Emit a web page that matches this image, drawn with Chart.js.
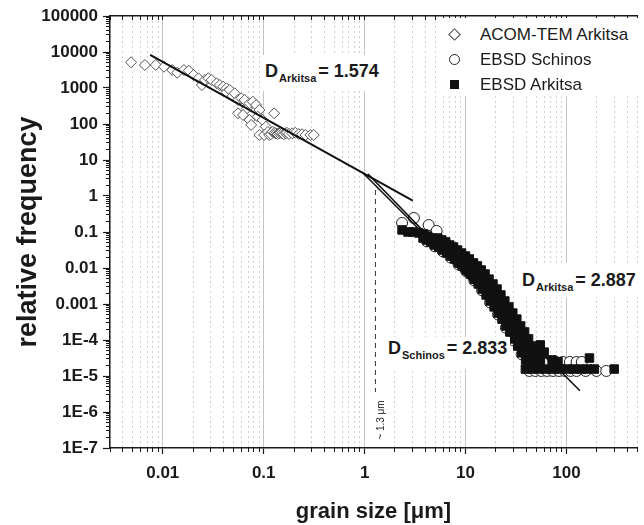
<!DOCTYPE html>
<html>
<head>
    <title>Grain size distribution</title>
    <script src="https://cdn.jsdelivr.net/npm/chart.js"></script>
    <style>
        html, body { margin: 0; padding: 0; overflow: hidden; background: #fff; }
        #wrap { position: relative; width: 644px; height: 525px; overflow: hidden; }
        #wrap canvas { position: absolute; left: 0; top: 0; }
        .box { position: absolute; background: #fff; font-family: 'Liberation Sans', Arial, sans-serif; color: #1a1a1a; white-space: nowrap; }
        .dlabel { font-weight: bold; font-size: 18px; line-height: 20px; }
        .dlabel .sub { font-size: 11px; position: relative; top: 5px; margin-left: 1px; margin-right: 2px; }
        #legend { left: 437px; top: 18px; width: 207px; height: 78px; font-size: 17px; }
        #legend .row { position: absolute; left: 0; height: 25px; line-height: 25px; }
        #legend .txt { position: absolute; left: 43px; top: 0; }
        .sym { position: absolute; box-sizing: border-box; }
        #note { position: absolute; left: 361px; top: 414px; width: 40px; text-align: center; font-family: 'Liberation Sans', Arial, sans-serif; font-size: 10px; line-height: 12px; color: #222; transform: rotate(-90deg); white-space: nowrap; }
    </style>
</head>
<body>
<div id="wrap">
    <canvas id="grainChart" width="644" height="525"></canvas>
    <div class="box dlabel" style="left:261px; top:54.5px; padding:6px 4px 8px 4px;">D<span class="sub">Arkitsa</span>= 1.574</div>
    <div class="box dlabel" style="left:518px; top:262.8px; padding:7px 6px 5px 4px;">D<span class="sub">Arkitsa</span>= 2.887</div>
    <div class="box dlabel" style="left:384px; top:336.8px; padding:1px 3px 9px 4px;">D<span class="sub">Schinos</span>= 2.833</div>
    <div id="note">~ 1.3 μm</div>
    <div class="box" id="legend">
        <div class="row" style="top:3.6px;">
            <div class="sym" style="left:13px; top:8px; width:9px; height:9px; border:1.2px solid #444; transform:rotate(45deg);"></div>
            <span class="txt">ACOM-TEM Arkitsa</span>
        </div>
        <div class="row" style="top:28.6px;">
            <div class="sym" style="left:12px; top:7px; width:11px; height:11px; border:1.2px solid #222; border-radius:50%;"></div>
            <span class="txt">EBSD Schinos</span>
        </div>
        <div class="row" style="top:53.6px;">
            <div class="sym" style="left:13px; top:8px; width:9px; height:9px; background:#111;"></div>
            <span class="txt">EBSD Arkitsa</span>
        </div>
    </div>
</div>

<script>
    // ACOM-TEM Arkitsa (open diamonds)
    const acomX = [0.00485, 0.00665, 0.00853, 0.0103, 0.0124, 0.0139, 0.0162, 0.0181, 0.0202, 0.0226,
                   0.0244, 0.0262, 0.0283, 0.0305, 0.0342, 0.0368, 0.0397, 0.0428, 0.043, 0.0461,
                   0.049, 0.0516, 0.0557, 0.06, 0.0647, 0.068, 0.0724, 0.078, 0.0841, 0.0906,
                   0.0557, 0.0624, 0.0724, 0.0751, 0.0873, 0.0977, 0.105, 0.0906, 0.101, 0.11,
                   0.1135, 0.118, 0.127, 0.1224, 0.128, 0.132, 0.137, 0.142, 0.147, 0.153,
                   0.158, 0.165, 0.17, 0.178, 0.192, 0.206, 0.223, 0.24, 0.259, 0.29, 0.313];
    const acomY = [5180, 4350, 4350, 3900, 3160, 2660, 3160, 3030, 2300, 1860,
                   1210, 1670, 1860, 1670, 1350, 1210, 1090, 980, 760, 880,
                   600, 710, 464, 517, 464, 270, 375, 417, 337, 245,
                   198, 178, 129, 94, 160, 129, 84, 49.5, 49.5, 60,
                   49.5, 52, 198, 61, 57, 55, 53, 55, 57, 55,
                   52, 55, 57, 53, 55, 57, 52.7, 52, 49.5, 49.5, 49.5];

    // EBSD Schinos (open circles), mostly hidden under the Arkitsa squares
    const schinosX = [2.35, 3.08, 4.32, 5.17,
                      4.15, 4.96, 5.95, 7.12, 8.53, 10.2, 12.2, 14.6, 17.5, 21.0, 25.1, 30.0, 36.0, 43.0,
                      67.3, 78.8, 92.2, 108, 126, 142,
                      42.9, 49.1, 56.2, 64.3, 73.6, 84.3, 96.5, 110, 126, 155, 198, 248];
    const schinosY = [0.178, 0.245, 0.156, 0.107,
                      0.055, 0.040, 0.029, 0.0195, 0.0125, 0.008, 0.0045, 0.0024, 0.0011, 5.1e-4, 2.2e-4, 9.7e-5, 4.0e-5, 1.75e-5,
                      2.45e-5, 2.45e-5, 2.45e-5, 2.45e-5, 2.45e-5, 2.45e-5,
                      1.38e-5, 1.38e-5, 1.38e-5, 1.38e-5, 1.38e-5, 1.38e-5, 1.38e-5, 1.38e-5, 1.38e-5, 1.38e-5, 1.38e-5, 1.38e-5];

    // EBSD Arkitsa (filled squares): middle of the band, its lower-left and upper-right edges, the tail
    const arkitsaX = [2.35, 2.69, 3.01, 3.45, 3.86, 4.22, 4.62, 5.06, 5.53, 6.05,
                      6.62, 7.25, 7.93, 8.68, 9.5, 10.4, 11.4, 12.4, 13.6, 14.9,
                      16.3, 17.8, 19.5, 21.3, 23.4, 25.6, 28.0, 30.6, 33.5, 36.6,
                      40.1, 43.9, 48.0, 52.5,
                      3.79, 4.15, 4.53, 4.96, 5.43, 5.95, 6.5, 7.12, 7.79, 8.53,
                      9.35, 10.2, 11.2, 12.2, 13.4, 14.6, 16.0, 17.5, 19.2, 21.0,
                      23.0, 25.1, 27.5, 30.0, 32.9, 36.0, 39.4, 43.0,
                      5.31, 5.82, 6.36, 6.96, 7.61, 8.34, 9.12, 9.98, 10.9, 12.0,
                      13.1, 14.3, 15.6, 17.1, 18.7, 20.5, 22.4, 24.5, 26.9, 29.4,
                      32.2, 35.2, 38.5, 42.1, 46.1, 50.5, 55.2,
                      55, 60.1, 72, 82.4,
                      39.2, 45.9, 53.8, 63, 73.7, 86.3, 101, 118, 138, 162, 189, 297, 169];
    const arkitsaY = [0.114, 0.100, 0.100, 0.094, 0.088, 0.077, 0.068, 0.060, 0.053, 0.0435,
                      0.0383, 0.0316, 0.0261, 0.0215, 0.0178, 0.0138, 0.0114, 0.0088, 0.0068, 0.0049,
                      0.0036, 0.0026, 0.00178, 0.00121, 8.3e-4, 5.6e-4, 3.8e-4, 2.45e-4, 1.67e-4, 1.07e-4,
                      6.8e-5, 4.4e-5, 2.8e-5, 1.9e-5,
                      0.068, 0.060, 0.053, 0.0435, 0.0383, 0.0316, 0.0261, 0.0215, 0.0178, 0.0138,
                      0.0114, 0.0088, 0.0068, 0.0049, 0.0036, 0.0026, 0.00178, 0.00121, 8.3e-4, 5.6e-4,
                      3.8e-4, 2.45e-4, 1.67e-4, 1.07e-4, 6.8e-5, 4.4e-5, 2.8e-5, 1.9e-5,
                      0.068, 0.060, 0.053, 0.0435, 0.0383, 0.0316, 0.0261, 0.0215, 0.0178, 0.0138,
                      0.0114, 0.0088, 0.0068, 0.0049, 0.0036, 0.0026, 0.00178, 0.00121, 8.3e-4, 5.6e-4,
                      3.8e-4, 2.45e-4, 1.67e-4, 1.07e-4, 6.8e-5, 4.4e-5, 2.8e-5,
                      7.3e-5, 4.6e-5, 2.8e-5, 2.5e-5,
                      1.56e-5, 1.56e-5, 1.56e-5, 1.56e-5, 1.56e-5, 1.56e-5, 1.56e-5, 1.56e-5, 1.56e-5, 1.56e-5, 1.56e-5, 1.56e-5, 3.16e-5];

    // fit lines and the ~1.3 um marker
    const fitAcomX = [0.0075, 3.0];
    const fitAcomY = [8260, 0.74];
    const fitArkitsaX = [0.97, 136];
    const fitArkitsaY = [4.3, 3.9e-6];
    const fitSchinosX = [1.08, 82];
    const fitSchinosY = [4.1, 1.5e-5];
    const markerX = [1.28, 1.28];
    const markerY = [1.47, 3.6e-6];

    // axes
    const xMin = 0.003, xMax = 500;
    const yMin = 1e-7, yMax = 1e5;
    const xMajor = [0.01, 0.1, 1, 10, 100];
    const xTickLabels = ["0.01", "0.1", "1", "10", "100"];
    const yMajor = [1e5, 1e4, 1e3, 100, 10, 1, 0.1, 0.01, 1e-3, 1e-4, 1e-5, 1e-6, 1e-7];
    const yTickLabels = ["100000", "10000", "1000", "100", "10", "1", "0.1", "0.01", "0.001", "1E-4", "1E-5", "1E-6", "1E-7"];
    const minorSteps = [2, 3, 4, 5, 6, 7, 8, 9];

    function minorTicks(decades, lo, hi) {
        const out = [];
        decades.forEach(d => minorSteps.forEach(m => {
            const v = d * m;
            if (v >= lo * 0.999 && v <= hi * 1.001) out.push(v);
        }));
        return out;
    }
    const xMinor = minorTicks([0.001, 0.01, 0.1, 1, 10, 100], xMin, xMax);
    const yMinor = minorTicks(yMajor, yMin, yMax);

    const pts = (xs, ys) => xs.map((x, i) => ({x: x, y: ys[i]}));
    const fontFam = "'Liberation Sans', Arial, sans-serif";
    const ink = "#1a1a1a";

    function fitLine(xs, ys, extra) {
        return Object.assign({
            data: pts(xs, ys),
            showLine: true,
            pointRadius: 0,
            borderColor: "#111",
            borderWidth: 2,
            order: 1
        }, extra || {});
    }

    const ctx = document.getElementById("grainChart").getContext("2d");

    new Chart(ctx, {
        type: "scatter",
        data: {
            datasets: [
                fitLine(fitAcomX, fitAcomY),
                fitLine(fitArkitsaX, fitArkitsaY, {borderWidth: 1.6}),
                fitLine(fitSchinosX, fitSchinosY, {borderWidth: 1.6}),
                fitLine(markerX, markerY, {borderWidth: 1, borderColor: "#333", borderDash: [5, 4]}),
                {
                    label: "EBSD Arkitsa",
                    data: pts(arkitsaX, arkitsaY),
                    pointStyle: "rect",
                    pointRadius: 6,
                    backgroundColor: "#111",
                    borderColor: "#111",
                    borderWidth: 1,
                    order: 3
                },
                {
                    label: "EBSD Schinos",
                    data: pts(schinosX, schinosY),
                    pointStyle: "circle",
                    pointRadius: 5.5,
                    backgroundColor: "#fff",
                    borderColor: "#222",
                    borderWidth: 1,
                    order: 4
                },
                {
                    label: "ACOM-TEM Arkitsa",
                    data: pts(acomX, acomY),
                    pointStyle: "rectRot",
                    pointRadius: 5.5,
                    backgroundColor: "#fff",
                    borderColor: "#555",
                    borderWidth: 1,
                    order: 5
                }
            ]
        },
        options: {
            responsive: false,
            animation: false,
            layout: { padding: 0 },
            plugins: { legend: { display: false }, tooltip: { enabled: false } },
            scales: {
                x: {
                    type: "logarithmic", position: "bottom", weight: 1,
                    min: xMin, max: xMax,
                    afterBuildTicks: s => { s.ticks = xMajor.map(v => ({value: v, major: true})); },
                    afterFit: s => { s.height = 77; },
                    ticks: {
                        autoSkip: false, maxRotation: 0, padding: 9, color: ink,
                        font: { family: fontFam, size: 17, weight: "bold" },
                        callback: v => xTickLabels[xMajor.indexOf(v)]
                    },
                    grid: { color: "#c4c4c4", lineWidth: 1, tickLength: 6, tickColor: ink, tickWidth: 1.2 },
                    border: { color: ink, width: 1.5 },
                    title: {
                        display: true, text: "grain size [μm]", color: ink,
                        font: { family: fontFam, size: 22, weight: "bold" },
                        padding: { top: 0, bottom: 0 }
                    }
                },
                xm: {
                    type: "logarithmic", axis: "x", position: "bottom", weight: 0,
                    min: xMin, max: xMax,
                    afterBuildTicks: s => { s.ticks = xMinor.map(v => ({value: v})); },
                    afterFit: s => { s.height = 0; },
                    ticks: { display: false },
                    grid: { color: "#cfcfcf", lineWidth: 1, tickLength: 4, tickColor: ink, tickWidth: 1, tickBorderDash: [] },
                    border: { display: false, dash: [2, 3] }
                },
                xt: {
                    type: "logarithmic", axis: "x", position: "top",
                    min: xMin, max: xMax,
                    afterBuildTicks: s => { s.ticks = xMajor.concat(xMinor).map(v => ({value: v})); },
                    afterFit: s => { s.height = 16; },
                    ticks: { display: false },
                    grid: { drawOnChartArea: false, tickLength: -4, tickColor: ink, tickWidth: 1 },
                    border: { color: ink, width: 1.5 }
                },
                y: {
                    type: "logarithmic", position: "left", weight: 1,
                    min: yMin, max: yMax,
                    afterBuildTicks: s => { s.ticks = yMajor.map(v => ({value: v, major: true})); },
                    afterFit: s => { s.width = 110; },
                    ticks: {
                        autoSkip: false, padding: 5, color: ink,
                        font: { family: fontFam, size: 17, weight: "bold" },
                        callback: v => yTickLabels[yMajor.indexOf(v)]
                    },
                    grid: { drawOnChartArea: false, tickLength: 7, tickColor: ink, tickWidth: 1.2 },
                    border: { color: ink, width: 1.5 },
                    title: {
                        display: true, text: "relative frequency", color: ink,
                        font: { family: fontFam, size: 27, weight: "bold" },
                        padding: { top: 12, bottom: 0 }
                    }
                },
                ym: {
                    type: "logarithmic", axis: "y", position: "left", weight: 0,
                    min: yMin, max: yMax,
                    afterBuildTicks: s => { s.ticks = yMinor.map(v => ({value: v})); },
                    afterFit: s => { s.width = 0; },
                    ticks: { display: false },
                    grid: { drawOnChartArea: false, tickLength: 4, tickColor: ink, tickWidth: 1 },
                    border: { display: false }
                }
            }
        }
    });
</script>
</body>
</html>
